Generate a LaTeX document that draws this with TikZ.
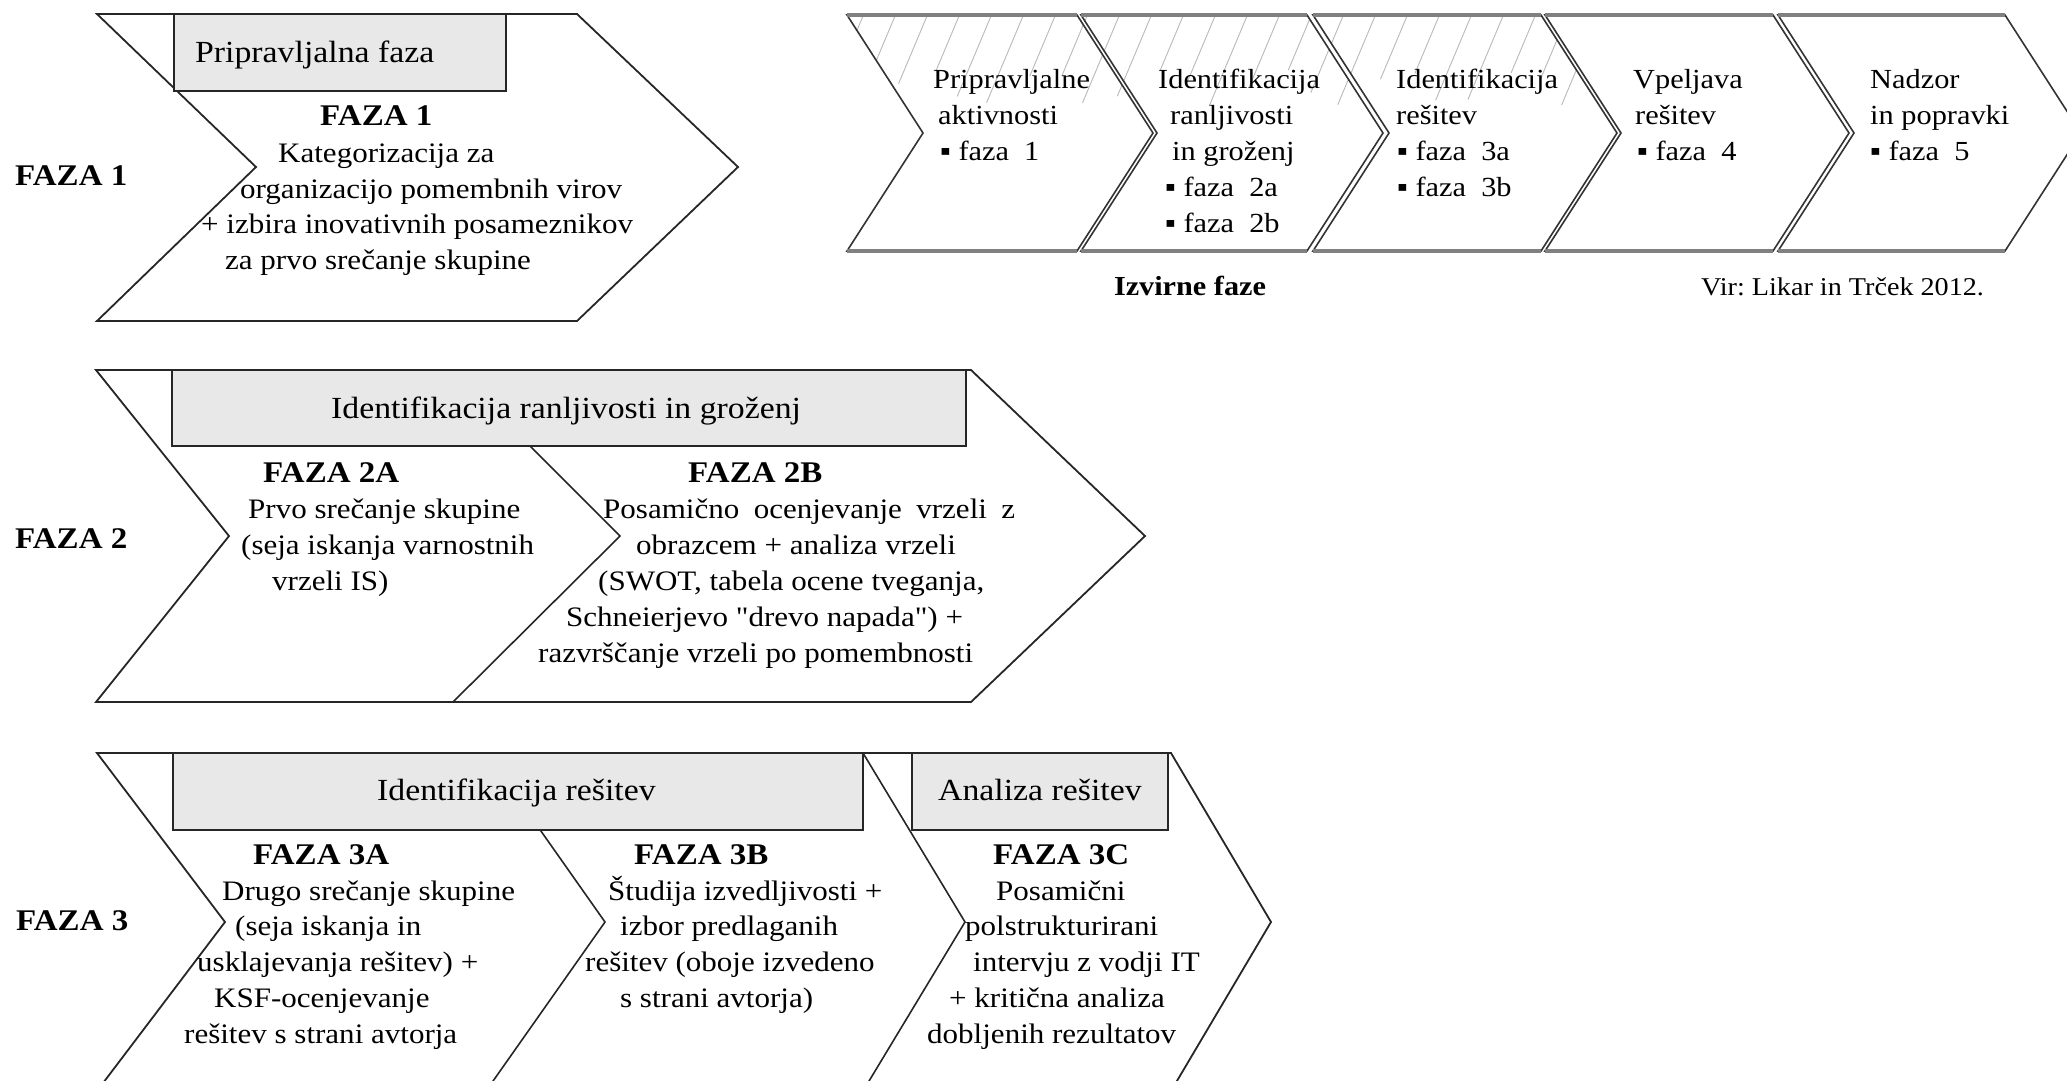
\documentclass[tikz,border=0pt]{standalone}
\usepackage{fontspec}
\setmainfont{Liberation Serif}[FakeStretch=1.1, Ligatures=TeXOff]
\frenchspacing
\begin{document}
\begin{tikzpicture}[x=1pt,y=-1pt]
\tikzset{
 chev/.style={draw=black!85, line width=1.8pt, line join=miter},
 chevline/.style={draw=black!85, line width=1.6pt},
 tbox/.style={draw=black!85, line width=2pt, fill=black!9},
 pchev/.style={draw=black!80, line width=1.6pt, line join=miter},
 pedge/.style={draw=black!50, line width=3.5pt},
 hatch/.style={draw=black!28, line width=0.9pt},
 txt/.style={anchor=base west, inner sep=0pt, font=\fontsize{28.2}{34}\selectfont},
 hd/.style={anchor=base west, inner sep=0pt, font=\bfseries\fontsize{30}{34}\selectfont},
 ttl/.style={anchor=base west, inner sep=0pt, font=\fontsize{30.7}{36}\selectfont},
 ptxt/.style={anchor=base west, inner sep=0pt, font=\fontsize{27.6}{34}\selectfont},
}
\useasboundingbox (0,0) rectangle (2067,1080);

% ---------- Row 1 ----------
\draw[chev] (97,14) -- (577,14) -- (738,167) -- (577,321) -- (97,321) -- (256,167) -- cycle;
\draw[tbox] (174,14) rectangle (506,91);
\node[ttl] (b1) at (195,62) {Pripravljalna faza};
\node[hd] (l1) at (15,185) {FAZA 1};
\node[hd] (h1) at (320,125) {FAZA 1};
\node[txt] (t11) at (278,162) {Kategorizacija za};
\node[txt] (t12) at (240,198) {organizacijo pomembnih virov};
\node[txt] (t13) at (201,233) {+ izbira inovativnih posameznikov};
\node[txt] (t14) at (225,269) {za prvo srečanje skupine};

% ---------- Row 2 ----------
\draw[chev] (96,370) -- (971,370) -- (1145,536) -- (971,702) -- (96,702) -- (229,536) -- cycle;
\draw[chevline] (454,370) -- (620,536) -- (453,702);
\draw[tbox] (172,370) rectangle (966,446);
\node[ttl] (b2) at (331,418) {Identifikacija ranljivosti in groženj};
\node[hd] (l2) at (15,548) {FAZA 2};
\node[hd] (h2a) at (263,482) {FAZA 2A};
\node[txt] (t2a1) at (248,518) {Prvo srečanje skupine};
\node[txt] (t2a2) at (241,554) {(seja iskanja varnostnih};
\node[txt] (t2a3) at (272,590) {vrzeli IS)};
\node[hd] (h2b) at (688,482) {FAZA 2B};
\node[txt] (t2b1) at (603,518) {\makebox[412pt][s]{Posamično ocenjevanje vrzeli z}};
\node[txt] (t2b2) at (636,554) {obrazcem + analiza vrzeli};
\node[txt] (t2b3) at (598,590) {(SWOT, tabela ocene tveganja,};
\node[txt] (t2b4) at (566,626) {Schneierjevo "drevo napada") +};
\node[txt] (t2b5) at (538,662) {razvrščanje vrzeli po pomembnosti};

% ---------- Row 3 ----------
\draw[chev] (97,753) -- (1171,753) -- (1271,922) -- (1171,1091) -- (97,1091) -- (225,922) -- cycle;
\draw[chevline] (486,753) -- (605,922) -- (486,1091);
\draw[chevline] (863,753) -- (965,922) -- (863,1091);
\draw[tbox] (173,753) rectangle (863,830);
\draw[tbox] (912,753) rectangle (1168,830);
\node[ttl] (b3) at (377,800) {Identifikacija rešitev};
\node[ttl] (b4) at (938,800) {Analiza rešitev};
\node[hd] (l3) at (16,930) {FAZA 3};
\node[hd] (h3a) at (253,864) {FAZA 3A};
\node[txt] (t3a1) at (222,900) {Drugo srečanje skupine};
\node[txt] (t3a2) at (235,935) {(seja iskanja in};
\node[txt] (t3a3) at (197,971) {usklajevanja rešitev) +};
\node[txt] (t3a4) at (214,1007) {KSF-ocenjevanje};
\node[txt] (t3a5) at (184,1043) {rešitev s strani avtorja};
\node[hd] (h3b) at (634,864) {FAZA 3B};
\node[txt] (t3b1) at (608,900) {Študija izvedljivosti +};
\node[txt] (t3b2) at (620,935) {izbor predlaganih};
\node[txt] (t3b3) at (585,971) {rešitev (oboje izvedeno};
\node[txt] (t3b4) at (620,1007) {s strani avtorja)};
\node[hd] (h3c) at (993,864) {FAZA 3C};
\node[txt] (t3c1) at (996,900) {Posamični};
\node[txt] (t3c2) at (965,935) {polstrukturirani};
\node[txt] (t3c3) at (973,971) {intervju z vodji IT};
\node[txt] (t3c4) at (949,1007) {+ kritična analiza};
\node[txt] (t3c5) at (927,1043) {dobljenih rezultatov};

% ---------- Process (top right) ----------
\foreach \L/\R in {847/1077,1081/1307,1313/1541}{
  \begin{scope}
    \clip (\L,15) -- (\R,15) -- ({\R+76},133) -- (\R,251) -- (\L,251) -- ({\L+76},133) -- cycle;
    \foreach \k in {0,...,23}{
      \pgfmathsetmacro\hh{72+18*sin(\k*97)}
      \draw[hatch] ({863+32*\k},16) -- ++({-0.42*\hh},\hh);
    }
  \end{scope}
}
\foreach \L/\R in {847/1077,1081/1307,1313/1541,1545/1773,1778/2005}{
  \draw[pchev] (\L,15) -- (\R,15) -- ({\R+76},133) -- (\R,251) -- (\L,251) -- ({\L+76},133) -- cycle;
  \draw[pedge] (\L,15) -- (\R,15);
  \draw[pedge] (\L,251) -- (\R,251);
}
\node[ptxt] (p11) at (933,88) {Pripravljalne};
\node[ptxt] (p12) at (938,124) {aktivnosti};
\node[ptxt] (p13) at (940,160) {▪ faza\ \ 1};
\node[ptxt] (p21) at (1158,88) {Identifikacija};
\node[ptxt] (p22) at (1170,124) {ranljivosti};
\node[ptxt] (p23) at (1172,160) {in groženj};
\node[ptxt] (p24) at (1165,196) {▪ faza\ \ 2a};
\node[ptxt] (p25) at (1165,232) {▪ faza\ \ 2b};
\node[ptxt] (p31) at (1396,88) {Identifikacija};
\node[ptxt] (p32) at (1396,124) {rešitev};
\node[ptxt] (p33) at (1397,160) {▪ faza\ \ 3a};
\node[ptxt] (p34) at (1397,196) {▪ faza\ \ 3b};
\node[ptxt] (p41) at (1633,88) {Vpeljava};
\node[ptxt] (p42) at (1635,124) {rešitev};
\node[ptxt] (p43) at (1637,160) {▪ faza\ \ 4};
\node[ptxt] (p51) at (1870,88) {Nadzor};
\node[ptxt] (p52) at (1870,124) {in popravki};
\node[ptxt] (p53) at (1870,160) {▪ faza\ \ 5};
\node[anchor=base, inner sep=0pt, font=\bfseries\fontsize{27.5}{30}\selectfont] (cap) at (1190,295) {Izvirne faze};
\node[anchor=base west, inner sep=0pt, font=\fontsize{25.6}{30}\selectfont] (vir) at (1701,295) {Vir: Likar in Trček 2012.};
\end{tikzpicture}
\end{document}
